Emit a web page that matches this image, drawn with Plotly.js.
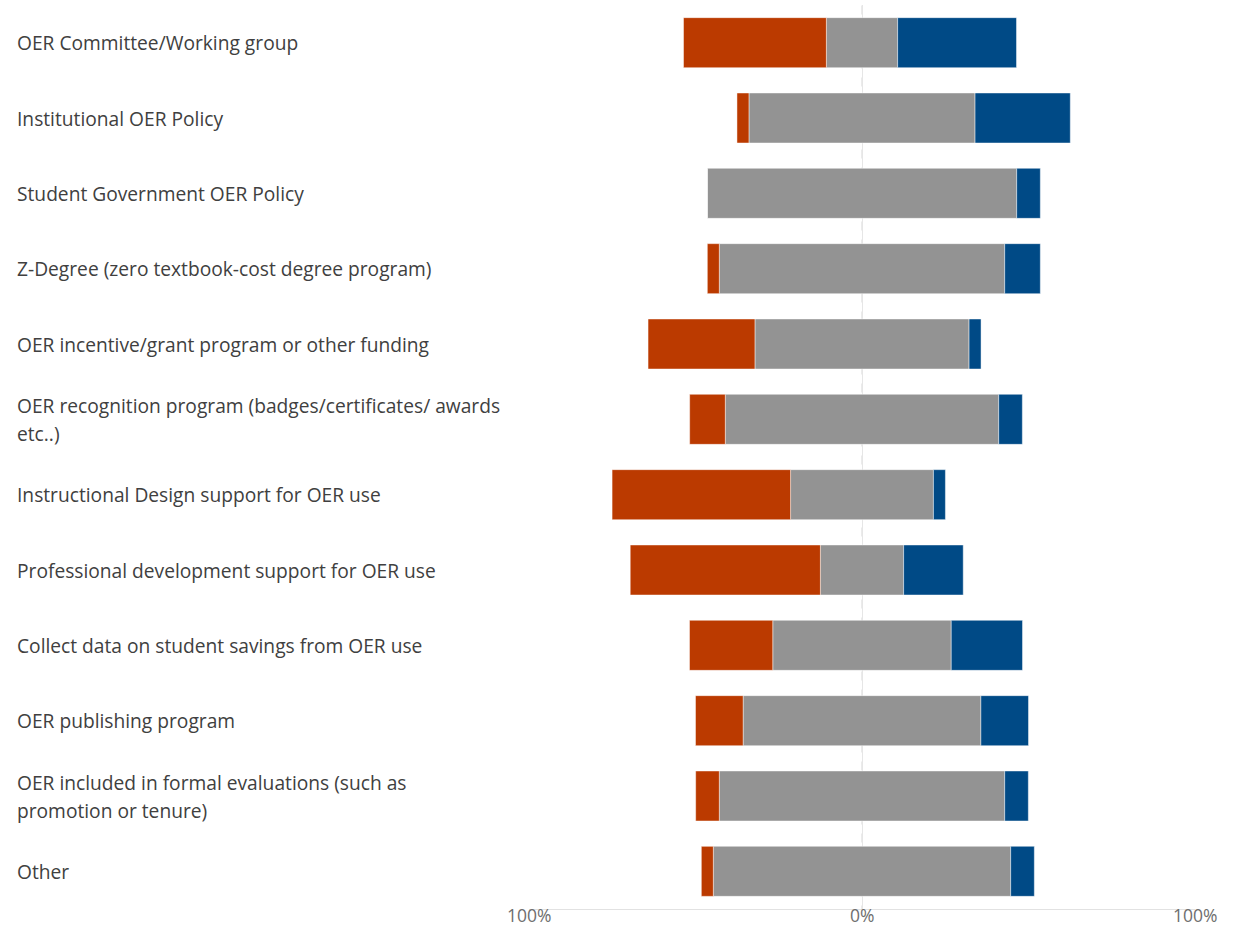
<!DOCTYPE html>
<html>
<head>
<meta charset="utf-8">
<script src="https://cdn.plot.ly/plotly-3.0.1.min.js"></script>
<style>html,body{margin:0;padding:0;background:#fff;}#chart{width:1243px;height:927px;}</style>
</head>
<body>
<div id="chart"></div>
<script>
// Categories (top to bottom), with label lines as shown
const categories = [
  "OER Committee/Working group",
  "Institutional OER Policy",
  "Student Government OER Policy",
  "Z-Degree (zero textbook-cost degree program)",
  "OER incentive/grant program or other funding",
  "OER recognition program (badges/certificates/ awards etc..)",
  "Instructional Design support for OER use",
  "Professional development support for OER use",
  "Collect data on student savings from OER use",
  "OER publishing program",
  "OER included in formal evaluations (such as promotion or tenure)",
  "Other"
];
const labelLines = [
  ["OER Committee/Working group"],
  ["Institutional OER Policy"],
  ["Student Government OER Policy"],
  ["Z-Degree (zero textbook-cost degree program)"],
  ["OER incentive/grant program or other funding"],
  ["OER recognition program (badges/certificates/ awards", "etc..)"],
  ["Instructional Design support for OER use"],
  ["Professional development support for OER use"],
  ["Collect data on student savings from OER use"],
  ["OER publishing program"],
  ["OER included in formal evaluations (such as", "promotion or tenure)"],
  ["Other"]
];
// Percent values (left / neutral / right)
const redVals  = [42.9, 3.6, 0.0, 3.6, 32.1, 10.7, 53.6, 57.1, 25.0, 14.3, 7.1, 3.6];
const grayVals = [21.4, 67.9, 92.9, 85.7, 64.3, 82.1, 42.9, 25.0, 53.6, 71.4, 85.7, 89.3];
const blueVals = [35.7, 28.6, 7.1, 10.7, 3.6, 7.1, 3.6, 17.9, 21.4, 14.3, 7.1, 7.1];

const tickVals = [-100, 0, 100];
const tickText = ["100%", "0%", "100%"];

const RED = "#BB3A00", GRAY = "#939393", BLUE = "#004A86";
const edge = {color: "rgba(255,255,255,0.45)", width: 1};

// Neutral bar centred on 0; negative bar to its left, positive to its right
const traces = [
  {type: "bar", orientation: "h", y: categories, x: grayVals,
   base: grayVals.map(g => -g / 2),
   marker: {color: GRAY, line: edge}, hoverinfo: "skip", showlegend: false},
  {type: "bar", orientation: "h", y: categories, x: redVals,
   base: grayVals.map((g, i) => -g / 2 - redVals[i]),
   marker: {color: RED, line: edge}, hoverinfo: "skip", showlegend: false},
  {type: "bar", orientation: "h", y: categories, x: blueVals,
   base: grayVals.map(g => g / 2),
   marker: {color: BLUE, line: edge}, hoverinfo: "skip", showlegend: false}
];

const FONT = "Open Sans, sans-serif";
const annotations = [];
labelLines.forEach((lines, i) => {
  const n = lines.length;
  lines.forEach((t, j) => {
    annotations.push({
      xref: "paper", yref: "y", x: -0.7718, y: categories[i],
      xanchor: "left", yanchor: "middle", showarrow: false, align: "left",
      text: t, yshift: n > 1 ? (n - 1) * 14 - j * 28 : 0,
      font: {family: FONT, size: 19.2, color: "#404040"}
    });
  });
});
tickVals.forEach((v, k) => {
  annotations.push({
    xref: "x", yref: "paper", x: v, y: 0, xanchor: "center", yanchor: "middle",
    showarrow: false, text: tickText[k], yshift: -6, borderpad: 0,
    font: {family: FONT, size: 17.5, color: "#6e6e6e"}
  });
});

const layout = {
  width: 1243, height: 927,
  margin: {l: 529, r: 48, t: 5, b: 18},
  paper_bgcolor: "#fff", plot_bgcolor: "#fff",
  barmode: "overlay", bargap: 0.336,
  font: {family: FONT, color: "#595959"},
  xaxis: {
    range: [-100, 100], tickvals: tickVals, showticklabels: false,
    showgrid: true, gridcolor: "#e6e6e6", gridwidth: 1,
    zeroline: false, showline: true, linecolor: "#e2e2e2", linewidth: 1,
    ticks: "", fixedrange: true
  },
  yaxis: {
    type: "category", autorange: "reversed", showticklabels: false,
    showgrid: false, zeroline: false, showline: false, ticks: "", fixedrange: true
  },
  shapes: [{
    type: "line", xref: "x", yref: "paper", x0: 0, x1: 0, y0: -0.006, y1: 1,
    line: {color: "#dedede", width: 1.2, dash: "dash"}, layer: "below"
  }],
  annotations: annotations
};

Plotly.newPlot("chart", traces, layout, {displayModeBar: false, staticPlot: true});
</script>
</body>
</html>
